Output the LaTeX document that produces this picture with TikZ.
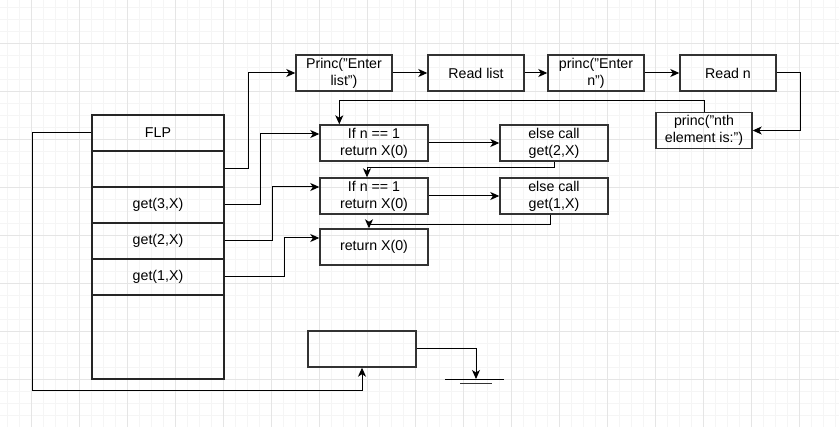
\documentclass[tikz,border=0pt]{standalone}
\usepackage{fontspec}
\setmainfont{Liberation Sans}
\usetikzlibrary{arrows.meta,calc}

\tikzset{
  box/.style={draw=black!80, line width=1.4pt, rectangle, minimum width=96pt,
    minimum height=36pt, inner sep=0pt, align=center, font=\fontsize{14.2}{16.8}\selectfont},
  wbox/.style={box, minimum width=108pt},
  cell/.style={draw=black!85, line width=1.3pt, rectangle, minimum width=132pt,
    minimum height=36pt, inner sep=0pt, font=\fontsize{14.2}{16.8}\selectfont},
  link/.style={draw=black, line width=1pt},
  arr/.style={link, -{Stealth[length=9pt,width=8pt,inset=2.5pt]}},
  minorgrid/.style={draw=black!4, line width=0.8pt},
  majorgrid/.style={draw=black!10, line width=1pt},
}

\begin{document}
\begin{tikzpicture}[x=1pt, y=-1pt]
  \useasboundingbox (0,0) rectangle (839,427);
  \fill[white] (0,0) rectangle (839,427);

  % background grid
  \foreach \g in {0,...,70} {
    \draw[minorgrid] ({7.5+12*\g},0) -- ({7.5+12*\g},427);
  }
  \foreach \g in {0,...,35} {
    \draw[minorgrid] (0,{7.3+12*\g}) -- (839,{7.3+12*\g});
  }
  \foreach \g in {0,...,17} {
    \draw[majorgrid] ({31.5+48*\g},0) -- ({31.5+48*\g},427);
  }
  \foreach \g in {0,...,8} {
    \draw[majorgrid] (0,{43.3+48*\g}) -- (839,{43.3+48*\g});
  }

  % stack frame
  \node[cell] (flp) at (158,133) {FLP};
  \node[cell] (row2) at (158,169) {};
  \node[cell] (g3) at (158,205) {get(3,X)};
  \node[cell] (g2) at (158,241) {get(2,X)};
  \node[cell] (g1) at (158,277) {get(1,X)};
  \node[cell, minimum height=84pt] (rest) at (158,337) {};

  % top row
  \node[box] (p1) at (344,73) {Princ("Enter\\list")};
  \node[box] (rl) at (476,73) {Read list};
  \node[box] (p2) at (596,73) {princ("Enter\\n")};
  \node[box] (rn) at (728,73) {Read n};
  \node[box] (nth) at (704,130.5) {princ("nth\\element is:")};

  % recursive calls
  \node[wbox] (if1) at (374,143) {If n == 1\\return X(0)};
  \node[wbox] (el1) at (554,143) {else call\\get(2,X)};
  \node[wbox] (if2) at (374,196) {If n == 1\\return X(0)};
  \node[wbox] (el2) at (554,196) {else call\\get(1,X)};
  \node[wbox] (ret) at (374,247) {return X(0)};

  % empty output box
  \node[wbox] (out) at (362,349) {};

  \coordinate (lb) at (32,391);
  \coordinate (gnd) at (476,379);

  % connectors
  \draw[arr] (row2.east) -- ++(24,0) |- (p1.west);
  \draw[arr] (p1.east) -- (rl.west);
  \draw[arr] (rl.east) -- (p2.west);
  \draw[arr] (p2.east) -- (rn.west);
  \draw[arr] (rn.east) -- ++(24,0) |- (nth.east);
  \draw[arr] (nth.north) -- ++(0,-11.5) -| ($(if1.north west)+(20,0)$);

  \draw[arr] (g3.east) -- ++(36,0) |- ($(if1.west)+(0,-9)$);
  \draw[arr] (g2.east) -- ++(48,0) |- ($(if2.west)+(0,-9)$);
  \draw[arr] (g1.east) -- ++(60,0) |- ($(ret.west)+(0,-9)$);

  \draw[arr] (if1.east) -- (el1.west);
  \draw[arr] (if2.east) -- (el2.west);
  \draw[arr] (el1.south) -- ++(0,6) -| ($(if2.north)+(-7,0)$);
  \draw[arr] ($(el2.south)+(-4,0)$) -- ++(0,9.5) -| ($(ret.north)+(-5,0)$);

  \draw[arr] (flp.west) -| (lb) -| (out.south);
  \draw[arr] (out.east) -| (gnd);

  % ground symbol
  \draw[link, line width=1.4pt] (445,379.3) -- (504,379.3);
  \draw[link, line width=1.4pt, draw=black!80] (460,383.5) -- (492,383.5);
\end{tikzpicture}
\end{document}
